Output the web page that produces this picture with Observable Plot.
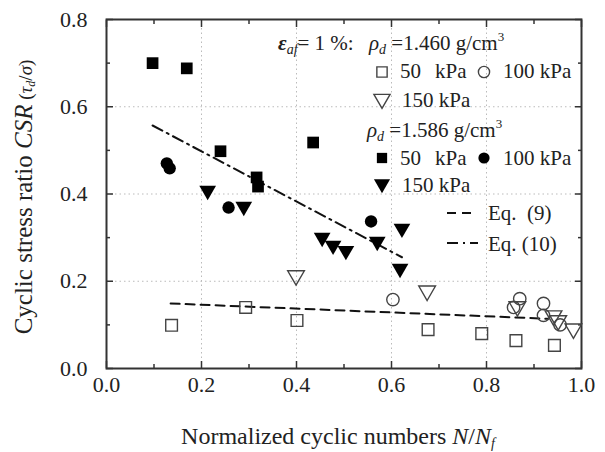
<!DOCTYPE html>
<html><head><meta charset="utf-8">
<script src="https://cdn.jsdelivr.net/npm/d3@7"></script>
<script src="https://cdn.jsdelivr.net/npm/@observablehq/plot@0.6"></script>
<style>
body{margin:0;background:#fff;}
svg text{font-family:"Liberation Serif","Times New Roman",serif;}
</style></head><body><div id="chart"></div>
<script>
// ---- data ----
// rho_d = 1.586 g/cm3 (filled markers)
const dense50X  = [0.097, 0.169, 0.240, 0.316, 0.319, 0.435];
const dense50Y  = [0.700, 0.688, 0.498, 0.438, 0.417, 0.518];
const dense100X = [0.127, 0.133, 0.257, 0.557];
const dense100Y = [0.470, 0.459, 0.369, 0.337];
const dense150X = [0.213, 0.289, 0.454, 0.477, 0.504, 0.570, 0.622, 0.618];
const dense150Y = [0.408, 0.371, 0.300, 0.282, 0.270, 0.291, 0.321, 0.229];
// rho_d = 1.460 g/cm3 (open markers)
const loose50X  = [0.137, 0.293, 0.401, 0.677, 0.790, 0.862, 0.943];
const loose50Y  = [0.099, 0.140, 0.110, 0.089, 0.080, 0.064, 0.053];
const loose100X = [0.603, 0.857, 0.870, 0.920, 0.920, 0.955];
const loose100Y = [0.158, 0.140, 0.160, 0.149, 0.122, 0.100];
const loose150X = [0.399, 0.675, 0.865, 0.941, 0.951, 0.983];
const loose150Y = [0.213, 0.178, 0.142, 0.121, 0.110, 0.091];
// fitted lines
const eq9X  = [0.135, 0.930];
const eq9Y  = [0.149, 0.114];
const eq10X = [0.097, 0.622];
const eq10Y = [0.557, 0.255];
// ticks
const majorX = [0, 0.2, 0.4, 0.6, 0.8, 1.0];
const minorX = [0.1, 0.3, 0.5, 0.7, 0.9];
const majorY = [0, 0.2, 0.4, 0.6, 0.8];
const minorY = [0.1, 0.3, 0.5, 0.7];
const gridXv = [0.2, 0.4, 0.6, 0.8];
const gridYv = [0.2, 0.4, 0.6];

const pts = (xs, ys) => xs.map((x, i) => ({x, y: ys[i]}));
const triDown = {draw(ctx, size) {
  const y = -Math.sqrt(size / (Math.sqrt(3) * 3));
  ctx.moveTo(0, -y * 2);
  ctx.lineTo(-Math.sqrt(3) * y, y);
  ctx.lineTo(Math.sqrt(3) * y, y);
  ctx.closePath();
}};
const blank = () => "";
const FONT = '"Liberation Serif","Times New Roman",serif';
const openStyle = {stroke: "#444", fill: "none", strokeWidth: 1.4};
const R_SQ = 6.6, R_CI = 6.2, R_TR = 6.2;

const plot = Plot.plot({
  width: 605, height: 452,
  marginLeft: 106, marginRight: 24, marginTop: 19, marginBottom: 84,
  style: {fontFamily: FONT, fontSize: "22px", color: "#222", background: "white"},
  x: {domain: [0, 1]},
  y: {domain: [0, 0.8]},
  marks: [
    Plot.gridX(gridXv, {stroke: "#bbb", strokeOpacity: 1, strokeDasharray: "1.5,3"}),
    Plot.gridY(gridYv, {stroke: "#bbb", strokeOpacity: 1, strokeDasharray: "1.5,3"}),
    Plot.axisX({ticks: majorX, anchor: "bottom", tickSize: -7, tickPadding: 15, tickFormat: d3.format(".1f"), label: null, stroke: "#333", strokeWidth: 1.5}),
    Plot.axisX({ticks: minorX, anchor: "bottom", tickSize: -4, tickFormat: blank, label: null, stroke: "#333", strokeWidth: 1.5}),
    Plot.axisX({ticks: majorX, anchor: "top", tickSize: -7, tickFormat: blank, label: null, stroke: "#333", strokeWidth: 1.5}),
    Plot.axisX({ticks: minorX, anchor: "top", tickSize: -4, tickFormat: blank, label: null, stroke: "#333", strokeWidth: 1.5}),
    Plot.axisY({ticks: majorY, anchor: "left", tickSize: -7, tickPadding: 26, tickFormat: d3.format(".1f"), label: null, stroke: "#333", strokeWidth: 1.5}),
    Plot.axisY({ticks: minorY, anchor: "left", tickSize: -4, tickFormat: blank, label: null, stroke: "#333", strokeWidth: 1.5}),
    Plot.axisY({ticks: majorY, anchor: "right", tickSize: -7, tickFormat: blank, label: null, stroke: "#333", strokeWidth: 1.5}),
    Plot.axisY({ticks: minorY, anchor: "right", tickSize: -4, tickFormat: blank, label: null, stroke: "#333", strokeWidth: 1.5}),
    Plot.frame({stroke: "#333", strokeWidth: 2}),
    Plot.line(pts(eq9X, eq9Y), {x: "x", y: "y", stroke: "#111", strokeWidth: 2, strokeDasharray: "9,6"}),
    Plot.line(pts(eq10X, eq10Y), {x: "x", y: "y", stroke: "#111", strokeWidth: 2, strokeDasharray: "11,5,2,5"}),
    Plot.dot(pts(loose50X, loose50Y), {x: "x", y: "y", symbol: "square", r: R_SQ, ...openStyle}),
    Plot.dot(pts(loose100X, loose100Y), {x: "x", y: "y", symbol: "circle", r: R_CI, ...openStyle}),
    Plot.dot(pts(loose150X, loose150Y), {x: "x", y: "y", symbol: triDown, r: R_TR, ...openStyle}),
    Plot.dot(pts(dense50X, dense50Y), {x: "x", y: "y", symbol: "square", r: R_SQ, fill: "#000", stroke: "none"}),
    Plot.dot(pts(dense100X, dense100Y), {x: "x", y: "y", symbol: "circle", r: R_CI, fill: "#000", stroke: "none"}),
    Plot.dot(pts(dense150X, dense150Y), {x: "x", y: "y", symbol: triDown, r: R_TR, fill: "#000", stroke: "none"})
  ]
});
document.getElementById("chart").appendChild(plot);

// ---- axis titles and legend ----
const svg = d3.select(plot);
const ann = svg.append("g").attr("font-family", FONT).attr("fill", "#222").attr("text-anchor", "start");

function richText(x, y, parts, opts = {}) {
  const t = ann.append("text").attr("x", x).attr("y", y).attr("font-size", opts.size || 21)
    .attr("text-anchor", opts.anchor || "start");
  if (opts.transform) t.attr("transform", opts.transform);
  for (const p of parts) {
    const s = t.append("tspan").text(p.t);
    if (p.i) s.attr("font-style", "italic");
    if (p.b) s.attr("font-weight", "bold");
    if (p.s) s.attr("font-size", p.s);
    if (p.dy) s.attr("dy", p.dy);
  }
  return t;
}

// x title
richText(338, 444, [
  {t: "Normalized cyclic numbers "}, {t: "N", i: 1}, {t: "/"}, {t: "N", i: 1},
  {t: "f", i: 1, s: 14, dy: 4}
], {anchor: "middle", size: 24});
// y title
richText(0, 0, [
  {t: "Cyclic stress ratio "}, {t: "CSR", i: 1}, {t: " (", s: 19},
  {t: "τ", i: 1, s: 19}, {t: "d", i: 1, s: 12, dy: 3}, {t: "/", s: 19, dy: -3},
  {t: "σ", i: 1, s: 19}, {t: ")", s: 19}
], {anchor: "middle", size: 25, transform: "translate(32,197) rotate(-90)"});

// legend
const sym = (type, r) => d3.symbol(type, r * r * Math.PI)();
function legSym(type, r, x, y, filled) {
  ann.append("path").attr("d", sym(type, r)).attr("transform", `translate(${x},${y})`)
    .attr("fill", filled ? "#000" : "none").attr("stroke", filled ? "none" : "#444")
    .attr("stroke-width", filled ? 0 : 1.4);
}
richText(278, 50, [
  {t: "ε", i: 1, b: 1}, {t: "af", i: 1, s: 14, dy: 4}, {t: "= 1 %:", dy: -4}
]);
richText(369, 50, [
  {t: "ρ", i: 1}, {t: "d", i: 1, s: 14, dy: 4}, {t: " =1.460 g/cm", dy: -4}, {t: "3", s: 13, dy: -9}
]);
legSym(d3.symbolSquare, 5.8, 382, 72, false);
richText(400, 78, [{t: "50"}]);
richText(435, 78, [{t: "kPa"}]);
legSym(d3.symbolCircle, 5.6, 484, 72, false);
richText(503, 78, [{t: "100 kPa"}]);
legSym(triDown, 6.0, 382, 99, false);
richText(402, 107, [{t: "150 kPa"}]);
richText(367, 137, [
  {t: "ρ", i: 1}, {t: "d", i: 1, s: 14, dy: 4}, {t: " =1.586 g/cm", dy: -4}, {t: "3", s: 13, dy: -9}
]);
legSym(d3.symbolSquare, 5.8, 382, 158, true);
richText(400, 165, [{t: "50"}]);
richText(435, 165, [{t: "kPa"}]);
legSym(d3.symbolCircle, 5.6, 484, 158, true);
richText(503, 165, [{t: "100 kPa"}]);
legSym(triDown, 6.0, 382, 184, true);
richText(402, 192, [{t: "150 kPa"}]);

ann.append("line").attr("x1", 447).attr("x2", 474).attr("y1", 213).attr("y2", 213)
  .attr("stroke", "#111").attr("stroke-width", 2).attr("stroke-dasharray", "9,6");
richText(488, 220, [{t: "Eq.  (9)"}]);
ann.append("line").attr("x1", 447).attr("x2", 478).attr("y1", 243).attr("y2", 243)
  .attr("stroke", "#111").attr("stroke-width", 2).attr("stroke-dasharray", "11,5,2,5");
richText(488, 251, [{t: "Eq. (10)"}]);
</script></body></html>
